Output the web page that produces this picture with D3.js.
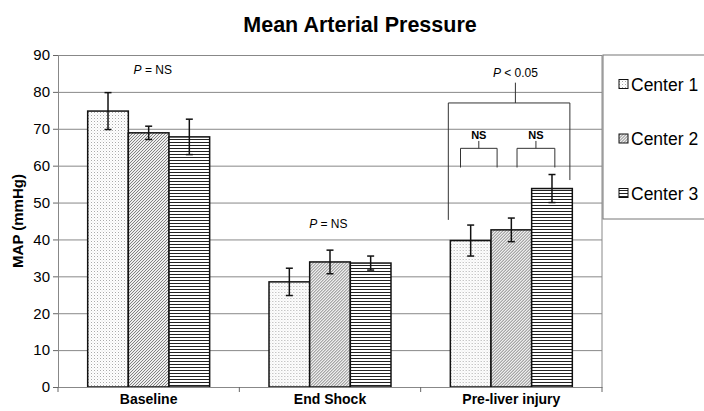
<!DOCTYPE html>
<html>
<head>
<meta charset="utf-8">
<script src="https://cdn.jsdelivr.net/npm/d3@7"></script>
<style>
  body { margin: 0; background: #fff; }
  svg { display: block; font-family: "Liberation Sans", Arial, sans-serif; }
</style>
</head>
<body>
<div id="chart"></div>
<script>
// DATA
const categories = ['Baseline', 'End Shock', 'Pre-liver injury'];
const centers = ['Center 1', 'Center 2', 'Center 3'];
const meanValues = [
  [74.8, 68.9, 67.8],
  [28.5, 33.9, 33.6],
  [39.7, 42.6, 53.8]
];
const errValues = [
  [5.0, 1.8, 4.8],
  [3.7, 3.2, 1.9],
  [4.2, 3.2, 3.8]
];
const yTicks = [0, 10, 20, 30, 40, 50, 60, 70, 80, 90];
// annotation texts: [category, position in bar units, y value, label]
const pLabels = [
  ['Baseline', 1.6, 84.8, 'NS'],
  ['End Shock', 1.46, 43.1, 'NS']
];

// VIZ DIMENSIONS + MOUNTING
const width = 704, height = 411;
const margin = {top: 55, right: 102, bottom: 24, left: 58};
const plotW = width - margin.left - margin.right;
const plotH = height - margin.top - margin.bottom;

const svg = d3.select('#chart').append('svg')
  .attr('width', width)
  .attr('height', height);

// PATTERNS
const defs = svg.append('defs');
const p1 = defs.append('pattern').attr('id', 'pat0')
  .attr('patternUnits', 'userSpaceOnUse').attr('width', 3).attr('height', 3);
p1.append('rect').attr('width', 3).attr('height', 3).attr('fill', '#fff');
p1.append('rect').attr('x', 0).attr('y', 0).attr('width', 1).attr('height', 1).attr('fill', '#aaa');
p1.append('rect').attr('x', 1.5).attr('y', 1.5).attr('width', 1).attr('height', 1).attr('fill', '#ddd');

const p2 = defs.append('pattern').attr('id', 'pat1')
  .attr('patternUnits', 'userSpaceOnUse').attr('width', 3).attr('height', 3);
p2.append('rect').attr('width', 3).attr('height', 3).attr('fill', '#eee');
p2.append('path').attr('d', 'M-1,1 L1,-1 M0,3 L3,0 M2,4 L4,2')
  .attr('stroke', '#666').attr('stroke-width', 0.8);

const p3 = defs.append('pattern').attr('id', 'pat2')
  .attr('patternUnits', 'userSpaceOnUse').attr('width', 4).attr('height', 3);
p3.append('rect').attr('width', 4).attr('height', 3).attr('fill', '#fff');
p3.append('rect').attr('x', 0).attr('y', 0).attr('width', 4).attr('height', 1).attr('fill', '#222');

const viz = svg.append('g')
  .attr('transform', `translate(${margin.left}, ${margin.top})`);

// SCALES
const x0 = d3.scaleBand().domain(categories).range([0, plotW]).padding(0);
const x1 = d3.scaleBand().domain(centers).range([0, x0.bandwidth()])
  .paddingInner(0).paddingOuter(0.73);
const y = d3.scaleLinear().domain([0, 90]).range([plotH, 0]);

// position inside a category, in bar-width units from the first bar
const ux = (cat, u) => x0(cat) + x1(centers[0]) + u * x1.bandwidth();

// GRID
viz.append('g')
  .call(d3.axisLeft(y).tickValues(yTicks).tickSize(-plotW).tickFormat(''))
  .call(g => g.select('.domain').remove())
  .selectAll('line').attr('stroke', '#888').attr('stroke-width', 1);

viz.append('line')
  .attr('x1', plotW).attr('x2', plotW).attr('y1', 0).attr('y2', plotH)
  .attr('stroke', '#888');

// BARS
const groups = viz.selectAll('g.cat')
  .data(categories)
  .enter().append('g')
  .attr('class', 'cat')
  .attr('transform', d => `translate(${x0(d)},0)`);

groups.selectAll('rect')
  .data((d, i) => centers.map((c, j) => ({c, j, v: meanValues[i][j], e: errValues[i][j]})))
  .enter().append('rect')
  .attr('x', d => x1(d.c))
  .attr('y', d => y(d.v))
  .attr('width', x1.bandwidth())
  .attr('height', d => y(0) - y(d.v))
  .attr('fill', d => `url(#pat${d.j})`)
  .attr('stroke', '#111')
  .attr('stroke-width', 1.5);

// ERROR BARS
const err = groups.selectAll('g.err')
  .data((d, i) => centers.map((c, j) => ({c, v: meanValues[i][j], e: errValues[i][j]})))
  .enter().append('g').attr('class', 'err')
  .attr('stroke', '#111').attr('stroke-width', 1.5);
const cx = d => x1(d.c) + x1.bandwidth() / 2;
err.append('line')
  .attr('x1', cx).attr('x2', cx)
  .attr('y1', d => y(d.v + d.e)).attr('y2', d => y(d.v - d.e));
err.append('line')
  .attr('x1', d => cx(d) - 3.5).attr('x2', d => cx(d) + 3.5)
  .attr('y1', d => y(d.v + d.e)).attr('y2', d => y(d.v + d.e));
err.append('line')
  .attr('x1', d => cx(d) - 3.5).attr('x2', d => cx(d) + 3.5)
  .attr('y1', d => y(d.v - d.e)).attr('y2', d => y(d.v - d.e));

// AXES
const yAxis = viz.append('g')
  .call(d3.axisLeft(y).tickValues(yTicks).tickSize(5).tickPadding(3));
yAxis.select('.domain').attr('stroke', '#888');
yAxis.selectAll('line').attr('stroke', '#666');
yAxis.selectAll('text').attr('font-size', 15).attr('fill', '#000')
  .attr('font-family', '"Liberation Sans", Arial, sans-serif');

const xAxis = viz.append('g')
  .attr('transform', `translate(0,${plotH})`)
  .call(d3.axisBottom(x0).tickSize(0).tickPadding(7));
xAxis.select('.domain').attr('stroke', '#888');
xAxis.selectAll('text').attr('font-size', 14).attr('font-weight', 'bold').attr('fill', '#000')
  .attr('font-family', '"Liberation Sans", Arial, sans-serif');
xAxis.selectAll('line.bound')
  .data(categories.concat(['end']))
  .enter().append('line').attr('class', 'bound')
  .attr('x1', d => d === 'end' ? plotW : x0(d))
  .attr('x2', d => d === 'end' ? plotW : x0(d))
  .attr('y1', 0).attr('y2', 5)
  .attr('stroke', '#666');

// P = NS LABELS
pLabels.forEach(([cat, u, v, txt]) => {
  const t = viz.append('text')
    .attr('x', ux(cat, u)).attr('y', y(v))
    .attr('text-anchor', 'middle')
    .attr('font-size', 12);
  t.append('tspan').attr('font-style', 'italic').text('P');
  t.append('tspan').text(' = ' + txt);
});

// SIGNIFICANCE BRACKETS (Pre-liver injury)
const cat = 'Pre-liver injury';
const br = viz.append('g').attr('stroke', '#333').attr('stroke-width', 1).attr('fill', 'none');
br.append('path').attr('d',
  `M${ux(cat, -0.05)},${y(45.3)} V${y(77)} H${ux(cat, 2.94)} V${y(56.1)}` +
  ` M${ux(cat, 1.6)},${y(77)} V${y(82.5)}`);
const pt = viz.append('text')
  .attr('x', ux(cat, 1.6)).attr('y', y(84))
  .attr('text-anchor', 'middle').attr('font-size', 12);
pt.append('tspan').attr('font-style', 'italic').text('P');
pt.append('tspan').text(' < 0.05');

[[0.25, 1.15], [1.64, 2.57]].forEach(([a, b]) => {
  const m = (a + b) / 2;
  br.append('path').attr('d',
    `M${ux(cat, a)},${y(59.5)} V${y(64.7)} H${ux(cat, b)} V${y(59.5)}` +
    ` M${ux(cat, m)},${y(64.7)} V${y(66.7)}`);
  viz.append('text')
    .attr('x', ux(cat, m)).attr('y', y(67.3))
    .attr('text-anchor', 'middle')
    .attr('font-size', 11).attr('font-weight', 'bold')
    .text('NS');
});

// TITLE + Y LABEL
svg.append('text')
  .attr('x', 360).attr('y', 32)
  .attr('text-anchor', 'middle')
  .attr('font-size', 21.5).attr('font-weight', 'bold')
  .text('Mean Arterial Pressure');

svg.append('text')
  .attr('transform', `translate(23, ${margin.top + plotH / 2}) rotate(-90)`)
  .attr('text-anchor', 'middle')
  .attr('font-size', 15).attr('font-weight', 'bold')
  .text('MAP (mmHg)');

// LEGEND
const lg = svg.append('g').attr('transform', `translate(${margin.left + plotW + 1}, ${margin.top})`);
lg.append('rect')
  .attr('width', 120).attr('height', 164)
  .attr('fill', '#fff').attr('stroke', '#777').attr('stroke-width', 1);
const item = lg.selectAll('g.item')
  .data(centers)
  .enter().append('g').attr('class', 'item')
  .attr('transform', (d, i) => `translate(16, ${29 + i * 54.5})`);
item.append('rect')
  .attr('x', 0).attr('y', -4.5).attr('width', 9).attr('height', 9)
  .attr('fill', (d, i) => `url(#pat${i})`)
  .attr('stroke', '#111').attr('stroke-width', 1);
item.append('text')
  .attr('x', 12).attr('y', 6.5)
  .attr('font-size', 17.5)
  .text(d => d);
</script>
</body>
</html>
